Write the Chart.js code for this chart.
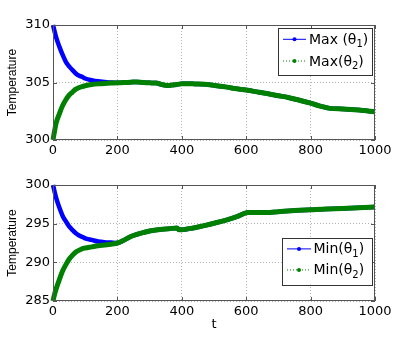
<!DOCTYPE html>
<html>
<head>
<meta charset="utf-8">
<script src="https://cdn.jsdelivr.net/npm/chart.js@4.4.1/dist/chart.umd.min.js"></script>
<style>
  html, body { margin: 0; padding: 0; background: #fff; }
  body { width: 415px; height: 339px; position: relative; overflow: hidden; }
  .box { position: absolute; left: 0; width: 415px; }
</style>
</head>
<body>
<div class="box" style="top:0;height:170px"><canvas id="top" width="415" height="170"></canvas></div>
<div class="box" style="top:170px;height:169px"><canvas id="bot" width="415" height="169"></canvas></div>
<script>
// ---------------- DATA ----------------
const xTicks = [0, 200, 400, 600, 800, 1000];
const yTicksTop = [300, 305, 310];
const yTicksBot = [285, 290, 295, 300];

// Top panel: early transients
const tMax1Early = [0, 10, 20, 30, 40, 50, 60, 70, 80, 90, 100, 120, 140, 160, 180, 200];
const max1Early  = [310, 308.9, 308.1, 307.4, 306.8, 306.4, 306.1, 305.8, 305.6, 305.5, 305.35, 305.2, 305.1, 305.05, 305.0, 304.97];
const tMax2Early = [0, 5, 10, 20, 30, 40, 50, 60, 70, 80, 90, 100, 120, 140, 160, 180, 200];
const max2Early  = [300, 300.8, 301.5, 302.3, 303.0, 303.5, 303.9, 304.15, 304.4, 304.55, 304.65, 304.72, 304.82, 304.88, 304.92, 304.95, 304.97];
// Top panel: merged tail (both series coincide)
const tMaxTail = [220, 240, 260, 280, 300, 320, 340, 355, 370, 385, 400, 420, 440, 470, 500, 540, 570, 600, 640, 672, 700, 730, 760, 800, 830, 860, 900, 950, 1000];
const maxTail  = [305.0, 305.02, 305.05, 305.0, 304.97, 304.95, 304.8, 304.75, 304.78, 304.82, 304.9, 304.9, 304.88, 304.85, 304.75, 304.6, 304.45, 304.35, 304.15, 304.0, 303.85, 303.7, 303.5, 303.2, 302.95, 302.75, 302.7, 302.6, 302.45];

// Bottom panel: early transients
const tMin1Early = [0, 10, 20, 30, 40, 50, 60, 70, 80, 90, 100, 120, 140, 160, 180, 200];
const min1Early  = [300, 298.3, 297.05, 296.0, 295.3, 294.65, 294.2, 293.8, 293.5, 293.3, 293.1, 292.9, 292.7, 292.6, 292.55, 292.5];
const tMin2Early = [0, 5, 10, 20, 30, 40, 50, 60, 70, 80, 90, 100, 120, 140, 160, 180, 200];
const min2Early  = [285, 285.9, 286.6, 287.8, 288.9, 289.7, 290.4, 290.9, 291.3, 291.55, 291.75, 291.85, 292.0, 292.15, 292.25, 292.35, 292.5];
// Bottom panel: merged tail
const tMinTail = [220, 240, 260, 281, 300, 333, 360, 385, 392, 400, 420, 436, 470, 509, 540, 571, 606, 640, 672, 700, 750, 800, 850, 900, 950, 1000];
const minTail  = [292.85, 293.3, 293.6, 293.85, 294.05, 294.25, 294.35, 294.45, 294.2, 294.2, 294.35, 294.45, 294.75, 295.15, 295.5, 295.9, 296.45, 296.45, 296.45, 296.55, 296.7, 296.8, 296.9, 296.95, 297.05, 297.15];

const labelsTop = [["Max (\u03B8", "1", ")"], ["Max(\u03B8", "2", ")"]];
const labelsBot = [["Min(\u03B8", "1", ")"], ["Min(\u03B8", "2", ")"]];

// ---------------- HELPERS ----------------
function pts(ts, vs) { return ts.map((t, i) => ({x: t, y: vs[i]})); }
const BLUE = '#0000ff', GREEN = '#008000';

const frame = {
  id: 'frame',
  afterDraw(chart) {
    const {ctx, chartArea: a} = chart;
    ctx.save();
    ctx.strokeStyle = '#555';
    ctx.lineWidth = 1;
    ctx.strokeRect(Math.round(a.left) + 0.5, Math.round(a.top) + 0.5, Math.round(a.right - a.left) - 1, Math.round(a.bottom - a.top) - 1);
    const xs = chart.scales.x, ys = chart.scales.y;
    ctx.beginPath();
    xs.ticks.forEach(t => {
      const px = Math.round(xs.getPixelForValue(t.value)) + 0.5;
      ctx.moveTo(px, a.bottom); ctx.lineTo(px, a.bottom - 4);
      ctx.moveTo(px, a.top); ctx.lineTo(px, a.top + 4);
    });
    ys.ticks.forEach(t => {
      const py = Math.round(ys.getPixelForValue(t.value)) + 0.5;
      ctx.moveTo(a.left, py); ctx.lineTo(a.left + 4, py);
      ctx.moveTo(a.right, py); ctx.lineTo(a.right - 4, py);
    });
    ctx.stroke();
    ctx.restore();
  }
};

const boxLegend = {
  id: 'boxLegend',
  afterDraw(chart, args, opts) {
    const {ctx, chartArea: a} = chart;
    const w = opts.width, h = opts.height;
    const right = a.right - opts.right;
    const left = right - w;
    const top = opts.top != null ? a.top + opts.top : a.bottom - opts.bottom - h;
    ctx.save();
    ctx.fillStyle = '#fff';
    ctx.fillRect(left, top, w, h);
    ctx.strokeStyle = '#333';
    ctx.lineWidth = 1;
    ctx.strokeRect(Math.round(left) + 0.5, Math.round(top) + 0.5, w, h);
    const rows = [opts.rowA, opts.rowB];
    chart.data.datasets.forEach((ds, i) => {
      const cy = top + rows[i];
      const x0 = left + opts.lineStart, x1 = left + opts.lineEnd;
      ctx.strokeStyle = ds.borderColor;
      ctx.lineWidth = 1;
      ctx.setLineDash(i === 0 ? [] : [1, 2]);
      ctx.beginPath(); ctx.moveTo(x0, cy); ctx.lineTo(x1, cy); ctx.stroke();
      ctx.setLineDash([]);
      ctx.fillStyle = ds.borderColor;
      ctx.beginPath(); ctx.arc((x0 + x1) / 2, cy, 2, 0, Math.PI * 2); ctx.fill();
      const parts = opts.labels[i];
      ctx.fillStyle = '#000';
      ctx.textBaseline = 'alphabetic';
      ctx.textAlign = 'left';
      let tx = left + opts.textStart;
      const base = cy + 4.5;
      ctx.font = '14px "DejaVu Sans"';
      ctx.fillText(parts[0], tx, base); tx += ctx.measureText(parts[0]).width;
      ctx.font = '10px "DejaVu Sans"';
      ctx.fillText(parts[1], tx, base + 3.5); tx += ctx.measureText(parts[1]).width;
      ctx.font = '14px "DejaVu Sans"';
      ctx.fillText(parts[2], tx, base);
    });
    ctx.restore();
  }
};

Chart.defaults.font.family = '"DejaVu Sans"';
Chart.defaults.font.size = 13;
Chart.defaults.color = '#000';

function makeChart(id, datasets, yMin, yMax, yTicks, legendOpts, showXTitle, padTop, xAxisH) {
  return new Chart(document.getElementById(id), {
    type: 'line',
    data: { datasets },
    options: {
      responsive: false,
      animation: false,
      layout: { padding: { left: 0, right: 40, top: padTop, bottom: 0 } },
      elements: { point: { radius: 0 }, line: { cubicInterpolationMode: 'monotone' } },
      plugins: { legend: { display: false }, tooltip: { enabled: false }, boxLegend: legendOpts },
      scales: {
        x: {
          type: 'linear', min: 0, max: 1000,
          afterBuildTicks: s => { s.ticks = xTicks.map(v => ({value: v})); },
          afterFit: s => { s.height = xAxisH; },
          ticks: { padding: 3, maxRotation: 0, font: { size: 13 }, callback: v => String(v) },
          grid: { color: '#b4b4b4', lineWidth: 1, drawTicks: false },
          border: { display: false, dash: [1, 2] },
          title: { display: showXTitle, text: 't', padding: { top: 0, bottom: 7 }, font: { size: 13 } }
        },
        y: {
          type: 'linear', min: yMin, max: yMax,
          afterBuildTicks: s => { s.ticks = yTicks.map(v => ({value: v})); },
          afterFit: s => { s.width = 53; },
          ticks: { padding: 3, font: { size: 13 }, callback: v => String(v) },
          grid: { color: '#b4b4b4', lineWidth: 1, drawTicks: false },
          border: { display: false, dash: [1, 2] },
          title: { display: true, text: 'Temperature', padding: { top: 5, bottom: 0 }, font: { family: '"Liberation Sans"', size: 12 } }
        }
      }
    },
    plugins: [frame, boxLegend]
  });
}

makeChart('top', [
  { label: 'Max (\u03B81)', data: pts(tMax1Early.concat(tMaxTail), max1Early.concat(maxTail)), borderColor: BLUE, backgroundColor: BLUE, borderWidth: 4.5, order: 1, clip: 3 },
  { label: 'Max(\u03B82)', data: pts(tMax2Early.concat(tMaxTail), max2Early.concat(maxTail)), borderColor: GREEN, backgroundColor: GREEN, borderWidth: 5, order: 0, clip: 3 }
], 300, 310, yTicksTop,
  { width: 94, height: 47, right: 3, top: 3, rowA: 11.3, rowB: 33, lineStart: 5, lineEnd: 28, textStart: 31, labels: labelsTop },
  false, 25, 30);

makeChart('bot', [
  { label: 'Min(\u03B81)', data: pts(tMin1Early.concat(tMinTail), min1Early.concat(minTail)), borderColor: BLUE, backgroundColor: BLUE, borderWidth: 4.5, order: 1, clip: 3 },
  { label: 'Min(\u03B82)', data: pts(tMin2Early.concat(tMinTail), min2Early.concat(minTail)), borderColor: GREEN, backgroundColor: GREEN, borderWidth: 5, order: 0, clip: 3 }
], 285, 300, yTicksBot,
  { width: 90, height: 47, right: 3, bottom: 16.4, rowA: 11.3, rowB: 32.3, lineStart: 5, lineEnd: 29, textStart: 31.5, labels: labelsBot },
  true, 15, 38);
</script>
</body>
</html>
